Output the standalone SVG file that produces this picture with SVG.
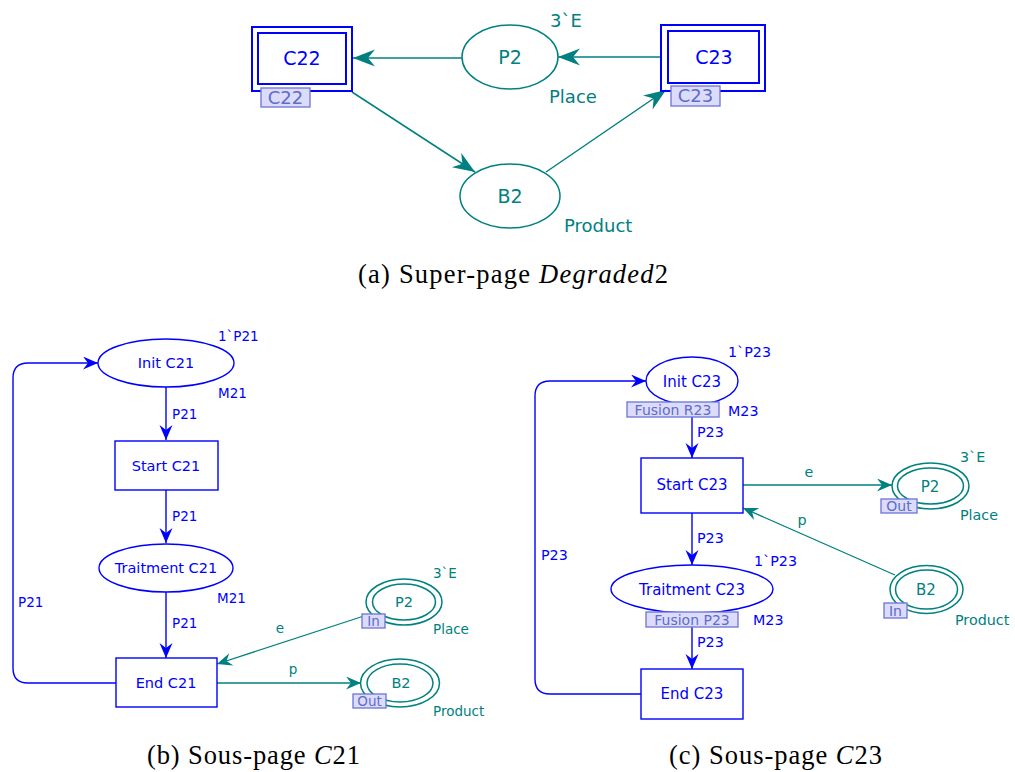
<svg xmlns="http://www.w3.org/2000/svg" width="1015" height="772" viewBox="0 0 1015 772">
<style>
.bg{fill:#ffffff}
.tb{fill:none;stroke:#0000ff;stroke-width:2}
.bb{fill:#ffffff;stroke:#0000ff;stroke-width:1.4}
.te{fill:#ffffff;stroke:#008080;stroke-width:1.5}
.be{fill:#ffffff;stroke:#0000ff;stroke-width:1.4}
.tl{fill:none;stroke:#008080;stroke-width:1.5}
.bl{fill:none;stroke:#0000ff;stroke-width:1.4}
.gl{fill:none;stroke:#008080;stroke-width:1.3}
.tag{fill:#dcdcfa;stroke:#6a74d4;stroke-width:1.3}
text{font-family:"DejaVu Sans","Verdana",sans-serif}
.tbT{fill:#0000ff;font-size:19px;text-anchor:middle}
.ttT{fill:#008080;font-size:19px;text-anchor:middle}
.ttL{fill:#008080;font-size:18px}
.tagT{fill:#5f6cc8;font-size:18px;text-anchor:middle}
.n1{fill:#0000ff;font-size:14.5px;text-anchor:middle}
.n1g{fill:#008080;font-size:14.5px;text-anchor:middle}
.l1{fill:#0000ff;font-size:13.5px}
.l1g{fill:#008080;font-size:13.5px}
.tg1{fill:#5f6cc8;font-size:13.5px;text-anchor:middle}
.n2{fill:#0000ff;font-size:15px;text-anchor:middle}
.n2g{fill:#008080;font-size:15px;text-anchor:middle}
.l2{fill:#0000ff;font-size:14.3px}
.l2g{fill:#008080;font-size:14.3px}
.tg2{fill:#5f6cc8;font-size:14px;text-anchor:middle}
.cap{font-family:"Liberation Serif","Times New Roman",serif;font-size:26.5px;fill:#000000}
</style>
<defs>
<marker id="aTop" markerUnits="userSpaceOnUse" markerWidth="24" markerHeight="20" refX="22" refY="8.5" orient="auto">
<path d="M0,0 L22,8.5 L0,17 L7,8.5 Z" fill="#008080"/>
</marker>
<marker id="aB" markerUnits="userSpaceOnUse" markerWidth="17" markerHeight="15" refX="15" refY="6.5" orient="auto">
<path d="M0,0 L15,6.5 L0,13 L5,6.5 Z" fill="#0000ff"/>
</marker>
<marker id="aG" markerUnits="userSpaceOnUse" markerWidth="17" markerHeight="15" refX="15" refY="6.5" orient="auto">
<path d="M0,0 L15,6.5 L0,13 L5,6.5 Z" fill="#008080"/>
</marker>
</defs>
<rect class="bg" x="0" y="0" width="1015" height="772"/>

<g id="connectors">
<line class="tl" x1="462" y1="58" x2="353" y2="58" marker-end="url(#aTop)"/>
<line class="tl" x1="661" y1="57" x2="558" y2="57" marker-end="url(#aTop)"/>
<line class="tl" x1="352" y1="92" x2="475" y2="172" marker-end="url(#aTop)"/>
<line class="tl" x1="546" y1="172" x2="666" y2="90" marker-end="url(#aTop)"/>
<line class="bl" x1="166" y1="387" x2="166" y2="440" marker-end="url(#aB)"/>
<line class="bl" x1="166" y1="490" x2="166" y2="543" marker-end="url(#aB)"/>
<line class="bl" x1="166" y1="592" x2="166" y2="658" marker-end="url(#aB)"/>
<path class="bl" d="M116,683 H28 Q13,683 13,668 V378 Q13,363 28,363 H98" marker-end="url(#aB)"/>
<line class="gl" x1="367" y1="615" x2="217" y2="664" marker-end="url(#aG)"/>
<line class="gl" x1="217" y1="683" x2="361" y2="683" marker-end="url(#aG)"/>
<text class="l1" x="172" y="419">P21</text>
<text class="l1" x="172" y="521">P21</text>
<text class="l1" x="172" y="628">P21</text>
<text class="l1" x="18" y="607">P21</text>
<text class="l1g" x="280" y="633" text-anchor="middle">e</text>
<text class="l1g" x="293" y="674" text-anchor="middle">p</text>
<line class="bl" x1="692" y1="417" x2="692" y2="458" marker-end="url(#aB)"/>
<line class="bl" x1="692" y1="513" x2="692" y2="565" marker-end="url(#aB)"/>
<line class="bl" x1="692" y1="627" x2="692" y2="669" marker-end="url(#aB)"/>
<path class="bl" d="M641,694 H550 Q535,694 535,679 V396 Q535,381 550,381 H646" marker-end="url(#aB)"/>
<line class="gl" x1="743" y1="485" x2="892" y2="485" marker-end="url(#aG)"/>
<line class="gl" x1="895" y1="575" x2="743" y2="508" marker-end="url(#aG)"/>
<text class="l2" x="697" y="437">P23</text>
<text class="l2" x="697" y="543">P23</text>
<text class="l2" x="697" y="647">P23</text>
<text class="l2" x="541" y="560">P23</text>
<text class="l2g" x="809" y="477" text-anchor="middle">e</text>
<text class="l2g" x="802" y="525" text-anchor="middle">p</text>
</g>

<g id="C22">
<rect class="tb" x="252" y="27" width="100" height="64"/>
<rect class="tb" x="258" y="33" width="88" height="51"/>
<text class="tbT" x="302" y="65">C22</text>
<rect class="tag" x="261" y="88" width="49" height="19"/>
<text class="tagT" x="285.5" y="104">C22</text>
</g>
<g id="C23">
<rect class="tb" x="661" y="25" width="104" height="66"/>
<rect class="tb" x="668" y="31" width="91" height="52"/>
<text class="tbT" x="714" y="64">C23</text>
<rect class="tag" x="671" y="86" width="49" height="20"/>
<text class="tagT" x="695.5" y="102">C23</text>
</g>
<g id="P2top">
<ellipse class="te" cx="510" cy="57" rx="48" ry="32"/>
<text class="ttT" x="510" y="64">P2</text>
<text class="ttL" x="550" y="27">3`E</text>
<text class="ttL" x="549" y="103">Place</text>
</g>
<g id="B2top">
<ellipse class="te" cx="510" cy="196" rx="50" ry="32"/>
<text class="ttT" x="510" y="203">B2</text>
<text class="ttL" x="564" y="232">Product</text>
</g>
<text class="cap" x="358" y="283" textLength="310">(a) Super-page <tspan font-style="italic">Degraded</tspan>2</text>

<g id="InitC21">
<ellipse class="be" cx="166" cy="363" rx="68" ry="24"/>
<text class="n1" x="166" y="368">Init C21</text>
<text class="l1" x="218" y="341">1`P21</text>
<text class="l1" x="218" y="398">M21</text>
</g>
<g id="StartC21">
<rect class="bb" x="115" y="441" width="103" height="49"/>
<text class="n1" x="166" y="471">Start C21</text>
</g>
<g id="TraitmentC21">
<ellipse class="be" cx="166" cy="568" rx="67" ry="24"/>
<text class="n1" x="166" y="573">Traitment C21</text>
<text class="l1" x="217" y="603">M21</text>
</g>
<g id="EndC21">
<rect class="bb" x="116" y="658" width="101" height="49"/>
<text class="n1" x="166" y="688">End C21</text>
</g>
<g id="P2C21">
<ellipse class="te" cx="404" cy="602" rx="38" ry="23" stroke-width="1.3"/>
<ellipse class="te" cx="404" cy="602" rx="31.5" ry="18" stroke-width="1.3"/>
<text class="n1g" x="404" y="607">P2</text>
<text class="l1g" x="433" y="578">3`E</text>
<text class="l1g" x="433" y="634">Place</text>
<rect class="tag" x="362" y="614" width="23" height="14"/>
<text class="tg1" x="373.5" y="626">In</text>
</g>
<g id="B2C21">
<ellipse class="te" cx="400" cy="683" rx="39.5" ry="24" stroke-width="1.3"/>
<ellipse class="te" cx="400" cy="683" rx="33" ry="19" stroke-width="1.3"/>
<text class="n1g" x="401" y="688">B2</text>
<text class="l1g" x="433" y="716">Product</text>
<rect class="tag" x="353" y="694" width="33" height="14"/>
<text class="tg1" x="369.5" y="706">Out</text>
</g>
<text class="cap" x="147" y="764" textLength="213">(b) Sous-page <tspan font-style="italic">C</tspan>21</text>

<g id="InitC23">
<ellipse class="be" cx="692" cy="381" rx="46" ry="24"/>
<text class="n2" x="692" y="386.5">Init C23</text>
<text class="l2" x="728" y="357">1`P23</text>
<text class="l2" x="728" y="416">M23</text>
<rect class="tag" x="627" y="402" width="92" height="15"/>
<text class="tg2" x="673" y="414.5">Fusion R23</text>
</g>
<g id="StartC23">
<rect class="bb" x="641" y="458" width="102" height="55"/>
<text class="n2" x="692" y="490">Start C23</text>
</g>
<g id="TraitmentC23">
<ellipse class="be" cx="692" cy="589" rx="81" ry="24"/>
<text class="n2" x="692" y="594.5">Traitment C23</text>
<text class="l2" x="754" y="566">1`P23</text>
<text class="l2" x="753" y="625">M23</text>
<rect class="tag" x="646" y="612" width="92" height="15"/>
<text class="tg2" x="692" y="624.5">Fusion P23</text>
</g>
<g id="EndC23">
<rect class="bb" x="641" y="669" width="102" height="50"/>
<text class="n2" x="692" y="699">End C23</text>
</g>
<g id="P2C23">
<ellipse class="te" cx="930.5" cy="486" rx="38.5" ry="23" stroke-width="1.3"/>
<ellipse class="te" cx="930.5" cy="486" rx="33" ry="18" stroke-width="1.3"/>
<text class="n2g" x="930" y="491.5">P2</text>
<text class="l2g" x="960" y="462">3`E</text>
<text class="l2g" x="960" y="520">Place</text>
<rect class="tag" x="881" y="499" width="36" height="14"/>
<text class="tg2" x="899" y="511">Out</text>
</g>
<g id="B2C23">
<ellipse class="te" cx="926.5" cy="589.5" rx="36.5" ry="24" stroke-width="1.3"/>
<ellipse class="te" cx="926.5" cy="589.5" rx="31" ry="19.5" stroke-width="1.3"/>
<text class="n2g" x="926" y="595">B2</text>
<text class="l2g" x="955" y="625">Product</text>
<rect class="tag" x="884" y="603" width="23" height="15"/>
<text class="tg2" x="895.5" y="615.5">In</text>
</g>
<text class="cap" x="669" y="764" textLength="213">(c) Sous-page <tspan font-style="italic">C</tspan>23</text>
</svg>
